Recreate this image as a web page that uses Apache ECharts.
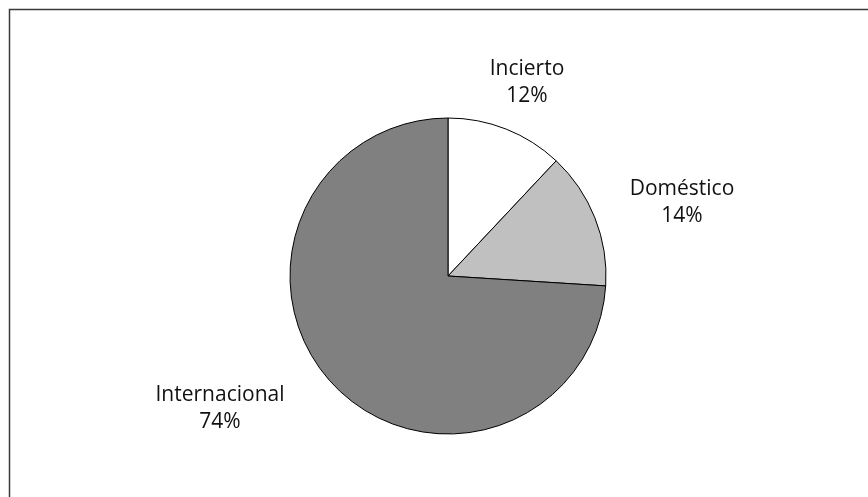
<!DOCTYPE html>
<html>
<head>
<meta charset="utf-8">
<script src="https://cdn.jsdelivr.net/npm/echarts@6/dist/echarts.min.js"></script>
<style>
  html, body { margin: 0; padding: 0; background: #fff; }
  #chart { width: 868px; height: 497px; }
</style>
</head>
<body>
<div id="chart"></div>
<script>
// Share of cases by origin
const categories = ['Incierto', 'Doméstico', 'Internacional'];
const shares = [12, 14, 74];
const sliceColors = ['#ffffff', '#c0c0c0', '#808080'];

// Where each slice's caption sits (canvas pixels, label centre)
const labelSpots = [[527, 83], [682, 203], [220, 409]];

const chart = echarts.init(document.getElementById('chart'), null, { renderer: 'canvas' });

chart.setOption({
  animation: false,
  graphic: [{
    type: 'polyline',
    shape: { points: [[9.5, 497], [9.5, 9.5], [868, 9.5]] },
    style: { stroke: '#3a3a3a', lineWidth: 1.5, fill: null },
    silent: true
  }],
  series: [{
    type: 'pie',
    center: [448, 276],
    radius: 158,
    startAngle: 90,
    clockwise: true,
    data: categories.map((name, i) => ({
      name,
      value: shares[i],
      itemStyle: { color: sliceColors[i] }
    })),
    itemStyle: { borderColor: '#000', borderWidth: 1 },
    label: {
      show: true,
      position: 'outside',
      formatter: '{b}\n{c}%',
      color: '#111111',
      fontFamily: 'Open Sans',
      fontSize: 21,
      lineHeight: 27,
      align: 'center'
    },
    labelLine: { show: false },
    labelLayout: function (params) {
      const p = labelSpots[params.dataIndex];
      return { x: p[0], y: p[1], align: 'center', verticalAlign: 'middle' };
    },
    emphasis: { disabled: true }
  }]
});
</script>
</body>
</html>
